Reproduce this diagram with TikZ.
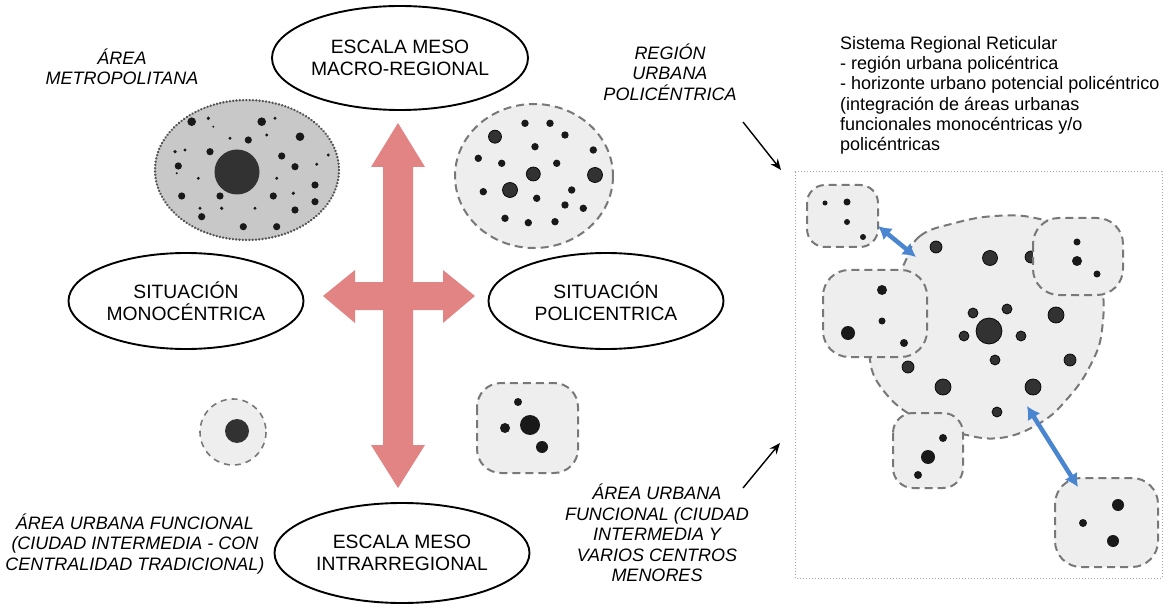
\documentclass[tikz,border=0pt]{standalone}
\usepackage{fontspec}
\setmainfont{Liberation Sans}
\usetikzlibrary{shapes.geometric,arrows.meta}
\definecolor{pinkar}{RGB}{226,132,132}
\definecolor{blobfill}{RGB}{238,238,238}
\definecolor{metrofill}{RGB}{200,200,200}
\definecolor{dashgray}{RGB}{120,120,120}
\definecolor{dotdark}{RGB}{25,25,25}
\definecolor{dotgray}{RGB}{50,50,50}
\definecolor{bluear}{RGB}{74,134,208}
\tikzset{
  bubble/.style={ellipse, draw=black, line width=1.9pt, align=center, inner sep=0pt,
    font=\fontsize{19.3}{22}\selectfont},
  lab/.style={align=center, inner sep=0pt, font=\fontsize{18}{20.5}\selectfont\itshape},
  blob/.style={fill=blobfill, draw=dashgray, line width=2pt, dash pattern=on 8pt off 5pt},
  metro/.style={fill=metrofill, draw=dashgray!70!black, line width=2.6pt, dash pattern=on 0.1pt off 3.2pt, line cap=round},
  dk/.style={fill=dotdark},
  dg/.style={fill=dotgray, draw=black, line width=0.7pt},
  bluearrow/.style={draw=bluear, line width=4.5pt, {Latex[length=13pt,width=15pt]}-{Latex[length=13pt,width=15pt]}},
  pointer/.style={draw=black, line width=1.4pt, -{Stealth[length=11pt,width=9pt]}}
}
\begin{document}
\begin{tikzpicture}[x=1pt,y=-1pt]
\useasboundingbox (0,0) rectangle (1165,604);

% ---------- pink cross ----------
\fill[pinkar] (398,123) -- (425,167) -- (413,167) -- (413,282) -- (443,282) -- (443,270)
  -- (475,296) -- (443,323) -- (443,310) -- (413,310) -- (413,445) -- (425,445)
  -- (398,488) -- (371,445) -- (383,445) -- (383,310) -- (355,310) -- (355,323)
  -- (323,296) -- (355,270) -- (355,282) -- (383,282) -- (383,167) -- (371,167) -- cycle;

% ---------- ellipses ----------
\node[bubble, minimum width=256pt, minimum height=104pt] (macro) at (400,58) {ESCALA MESO\\MACRO-REGIONAL};
\node[bubble, minimum width=235pt, minimum height=96pt] (mono) at (186,301) {SITUACIÓN\\MONOCÉNTRICA};
\node[bubble, minimum width=235pt, minimum height=96pt] (poli) at (606,301) {SITUACIÓN\\POLICENTRICA};
\node[bubble, minimum width=255pt, minimum height=100pt] (intra) at (402,553) {ESCALA MESO\\INTRARREGIONAL};

% ---------- labels ----------
\node[lab] (lmetro) at (122,67) {ÁREA\\METROPOLITANA};
\node[lab] (lregion) at (670,72) {REGIÓN\\URBANA\\POLICÉNTRICA};
\node[lab] (lauf1) at (135,544) {ÁREA URBANA FUNCIONAL\\(CIUDAD INTERMEDIA - CON\\CENTRALIDAD TRADICIONAL)};
\node[lab] (lauf2) at (657,533) {ÁREA URBANA\\FUNCIONAL (CIUDAD\\INTERMEDIA Y\\VARIOS CENTROS\\MENORES};
\node[align=left, anchor=north west, inner sep=0pt, font=\fontsize{18}{20.3}\selectfont] (lsis) at (840,36)
  {Sistema Regional Reticular\\- región urbana policéntrica\\- horizonte urbano potencial policéntrico\\(integración de áreas urbanas\\funcionales monocéntricas y/o\\policéntricas};

% ---------- metropolitan area ----------
\draw[metro] (247,170) ellipse [x radius=92, y radius=70];
\fill[dotgray] (237,172) circle (22.5);
\foreach \x/\y/\r in {191.7/121.7/4.3, 208.3/118.3/1.8, 261.7/121.7/4.3, 275/118.3/1.6, 300/136.7/4.3,
  248.3/140/3.6, 230/138.3/1.6, 266.7/135/1.6, 210/151.7/3.6, 175/151.7/1.8, 185/150/1.6,
  281.7/156/3.6, 295/166.7/3.6, 328.3/155/1.6, 316.7/164.3/1.6, 178.3/166/3.6, 198.3/178.3/1.6,
  276.7/178.3/1.6, 315/185/3.6, 315/201.7/3.6, 295/210/3.6, 293.3/193.3/1.8, 273.3/196/3.6,
  255/208.3/1.6, 220/196/3.6, 221.7/208.3/1.8, 181.7/196/3.6, 200/208.3/1.6, 201.7/216.7/3.6,
  243.3/226.7/3.6, 276.7/226.7/3.6, 213.3/126.7/1.1, 176.7/173.3/1.1}
  \fill[dk] (\x,\y) circle (\r);

% ---------- polycentric region ----------
\draw[blob] (534,176) ellipse [x radius=79, y radius=72];
\foreach \x/\y/\r in {525/123.3/3.7, 550/123.3/3.7, 565/135/3.7, 535/146.7/3.7,
  593.3/150/3.7, 478.3/158.3/3.7, 501.7/163.3/3.7, 556.7/163.3/3.7, 483.3/191.7/3.7,
  536.7/198.3/3.7, 571.7/190/3.7, 565/205/3.7, 583.3/208.3/3.7, 505/218.3/3.7,
  528.3/222.7/3.7, 555/221.7/3.7}
  \fill[dk] (\x,\y) circle (\r);
\foreach \x/\y/\r in {495/136.7/6.5, 533.3/174/7, 595/175/7.5, 510/190/7.5}
  \filldraw[dg] (\x,\y) circle (\r);

% ---------- small monocentric ----------
\draw[blob, dash pattern=on 6pt off 5pt, line width=1.6pt] (233,432) circle (33);
\fill[dotgray] (237,431) circle (12);

% ---------- small polycentric ----------
\draw[blob, rounded corners=24pt] (477,383) rectangle (578,473);
\fill[dk] (530,425) circle (10);
\fill[dk] (518,402) circle (4);
\fill[dk] (505,428) circle (5);
\fill[dk] (542,447) circle (6);

% ---------- right panel ----------
\draw[gray!70, line width=1pt, dotted] (795,172) rectangle (1162,578);

\draw[blob] plot[smooth cycle, tension=0.7] coordinates {(905,262) (920,236) (955,223) (995,216)
  (1035,218) (1075,234) (1100,280) (1102,330) (1090,366) (1068,398) (1040,423) (1000,438)
  (958,433) (920,420) (887,395) (870,360) (880,320) (895,285)};
\foreach \x/\y/\r in {936/247/6, 990/258/7.5, 1031/257/6, 973/313/5, 1007/309/5, 964/336/5,
  1021/336/5, 1056/315/8, 995/360/5, 1070/360/6, 908/367/6, 943/387/8, 1033/387/8, 997/412/5}
  \filldraw[dg] (\x,\y) circle (\r);
\filldraw[dg] (989,331) circle (13);

\draw[blob, rounded corners=18pt] (807,185) rectangle (878,247);
\fill[dk] (825,203) circle (2.5);
\fill[dk] (847,202) circle (3.5);
\fill[dk] (847,222) circle (3);
\fill[dk] (863,237) circle (3);

\draw[blob, rounded corners=26pt] (823,270) rectangle (927,357);
\fill[dk] (882,290) circle (5);
\fill[dk] (882,321) circle (3.5);
\fill[dk] (848,333) circle (7);
\fill[dk] (904,343) circle (4);

\draw[blob, rounded corners=26pt] (1033,218) rectangle (1123,295);
\fill[dk] (1077,242) circle (3.5);
\fill[dk] (1077,261) circle (5);
\fill[dk] (1097,274) circle (3.5);

\draw[blob, rounded corners=20pt] (893,413) rectangle (963,488);
\fill[dk] (943,438) circle (4);
\fill[dk] (928,457) circle (7);
\fill[dk] (918,475) circle (4);

\draw[blob, rounded corners=26pt] (1055,478) rectangle (1158,567);
\fill[dk] (1118,505) circle (6);
\fill[dk] (1083,523) circle (4);
\fill[dk] (1113,541) circle (6);

% blue links
\coordinate (b1s) at (878,226);
\coordinate (b1e) at (916,257);
\coordinate (b2s) at (1027,406);
\coordinate (b2e) at (1078,487);
\draw[bluearrow] (b1s) -- (b1e);
\draw[bluearrow] (b2s) -- (b2e);

% pointers
\coordinate (p1s) at (743,122);
\coordinate (p1e) at (781,170);
\coordinate (p2s) at (743,488);
\coordinate (p2e) at (780,443);
\draw[pointer] (p1s) -- (p1e);
\draw[pointer] (p2s) -- (p2e);
\end{tikzpicture}
\end{document}
